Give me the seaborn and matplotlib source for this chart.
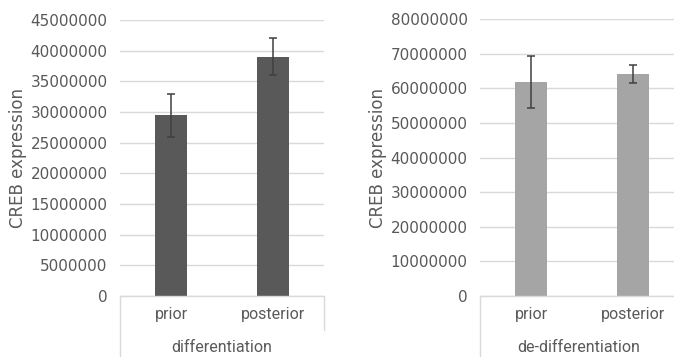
import numpy as np
import pandas as pd
import matplotlib; matplotlib.use("Agg")
import matplotlib.pyplot as plt
import seaborn as sns
from matplotlib.lines import Line2D

# ─── Data ───────────────────────────────────────────────────
CATEGORIES   = ["prior", "posterior"]
DIFF_MEAN    = [29500000, 39000000]
DIFF_ERR     = [3500000, 3000000]
DEDIFF_MEAN  = [61800000, 64000000]
DEDIFF_ERR   = [7500000, 2600000]
GROUPS       = ["differentiation", "de-differentiation"]
YMAX         = [45000000, 80000000]
YSTEP        = [5000000, 10000000]
BAR_COLORS   = ["#595959", "#a5a5a5"]

TEXT_C = "#595959"
GRID_C = "#d9d9d9"

sns.set_theme(style="white")
plt.rcParams["font.family"] = ["DejaVu Sans"]
plt.rcParams["font.size"] = 11

W, H = 674, 357
fig = plt.figure(figsize=(W / 100, H / 100), dpi=100)

def px_axes(x0, x1, ytop, ybot):
    return fig.add_axes([x0 / W, (H - ybot) / H, (x1 - x0) / W, (ybot - ytop) / H])

panels = [
    (px_axes(120, 324, 20, 296), DIFF_MEAN, DIFF_ERR, 18),
    (px_axes(480, 684, 19, 296), DEDIFF_MEAN, DEDIFF_ERR, 378),
]

for i, (ax, means, errs, ylab_x) in enumerate(panels):
    df = pd.DataFrame({"cat": CATEGORIES, "val": means})
    sns.barplot(data=df, x="cat", y="val", ax=ax, color=BAR_COLORS[i],
                width=0.31, saturation=1, errorbar=None, edgecolor="none")
    ax.errorbar(range(len(means)), means, yerr=errs, fmt="none",
                ecolor="#404040", elinewidth=1.1, capsize=3, capthick=1.1, zorder=5)

    ax.set_ylim(0, YMAX[i])
    ax.set_xlim(-0.5, 1.5)
    ax.set_yticks(np.arange(0, YMAX[i] + 1, YSTEP[i]))
    ax.set_yticklabels([f"{int(v)}" for v in ax.get_yticks()])
    ax.grid(axis="y", color=GRID_C, lw=1.0)
    ax.set_axisbelow(True)
    for s in ["top", "right", "left"]:
        ax.spines[s].set_visible(False)
    ax.spines["bottom"].set_color(GRID_C)
    ax.spines["bottom"].set_linewidth(1.0)

    ax.tick_params(axis="y", length=0, pad=9, colors=TEXT_C, labelsize=11)
    ax.tick_params(axis="x", length=0, pad=8, colors=TEXT_C, labelsize=11.5)
    for t in ax.get_xticklabels():
        t.set_family("Roboto")

    h_px = 276
    ax.set_xlabel(GROUPS[i], color=TEXT_C, fontsize=11.5, family="Roboto")
    ax.xaxis.set_label_coords(0.5 if i == 0 else (528 + 51 - 480) / 204, -51 / h_px)
    ax.xaxis.label.set_va("center")
    ax.set_ylabel("")
    fig.text(ylab_x / W, 1 - 158 / H, "CREB expression", rotation=90,
             ha="center", va="center", color=TEXT_C, fontsize=12)

    # category box lines below the axis
    ax.add_line(Line2D([0, 0], [0, -62 / h_px], transform=ax.transAxes,
                       color=GRID_C, lw=1.0, clip_on=False))
    ax.add_line(Line2D([1, 1], [0, -34 / h_px], transform=ax.transAxes,
                       color=GRID_C, lw=1.0, clip_on=False))

fig.savefig("out.png", dpi=100)
